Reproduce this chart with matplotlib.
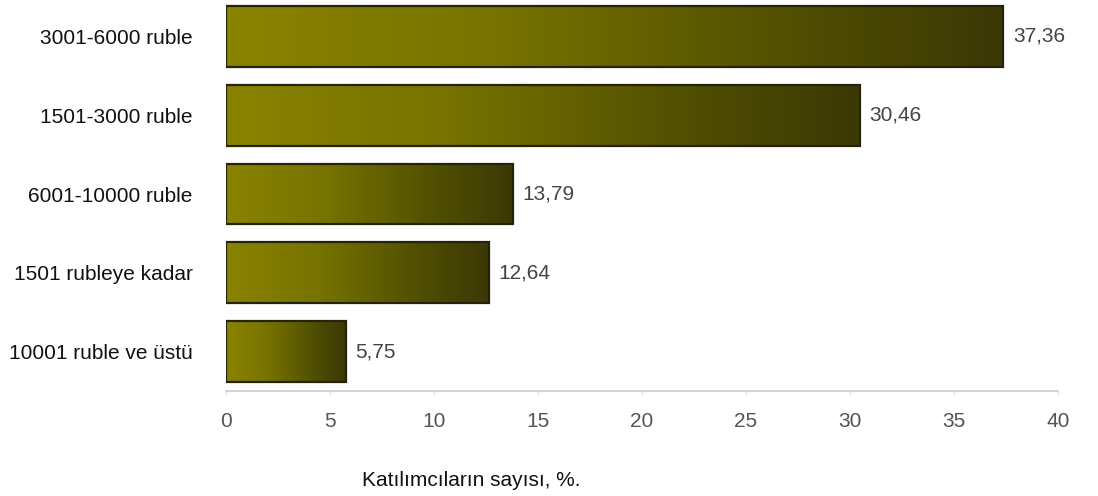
import numpy as np
import matplotlib
matplotlib.use("Agg")
import matplotlib.pyplot as plt
from matplotlib.colors import LinearSegmentedColormap
from matplotlib.patches import Rectangle

# Income groups and share of participants (%)
categories = ["3001-6000 ruble", "1501-3000 ruble", "6001-10000 ruble",
              "1501 rubleye kadar", "10001 ruble ve üstü"]
values = [37.36, 30.46, 13.79, 12.64, 5.75]
value_labels = ["37,36", "30,46", "13,79", "12,64", "5,75"]
xticks = [0, 5, 10, 15, 20, 25, 30, 35, 40]
xlabel = "Katılımcıların sayısı, %."

plt.rcParams["font.family"] = ["Liberation Sans", "DejaVu Sans"]

W, H = 1098, 496
fig = plt.figure(figsize=(W / 100, H / 100), dpi=100)
ax = fig.add_axes([226 / W, (H - 391) / H, (1058 - 226) / W, 394 / H])

cmap = LinearSegmentedColormap.from_list(
    "olive", [(0.0, "#8a8300"), (0.35, "#767300"), (0.74, "#504e02"), (1.0, "#3c3806")])
grad = np.linspace(0, 1, 256).reshape(1, -1)

bar_h = 0.77
for i, (v, lab) in enumerate(zip(values, value_labels)):
    y0, y1 = i - bar_h / 2, i + bar_h / 2
    ax.imshow(grad, cmap=cmap, aspect="auto", extent=(0, v, y1, y0),
              interpolation="bilinear", zorder=2)
    ax.add_patch(Rectangle((0, y0), v, bar_h, fill=False,
                           edgecolor="#26230c", linewidth=1.6, zorder=3))
    ax.annotate(lab, xy=(v, i), xytext=(7, 0), textcoords="offset points",
                va="center", ha="left", fontsize=15, color="#444444")

ax.set_xlim(0, 40)
ax.set_ylim(4.5, -0.5)
ax.set_yticks(range(len(categories)))
ax.set_yticklabels(categories, fontsize=15, color="#111111")
ax.set_xticks(xticks)
ax.set_xticklabels([str(t) for t in xticks], fontsize=15, color="#555555")
ax.tick_params(axis="y", length=0, pad=24)
ax.tick_params(axis="x", length=3, color="#dddddd", pad=12)

for s in ["top", "right", "left"]:
    ax.spines[s].set_visible(False)
ax.spines["bottom"].set_color("#cccccc")
ax.spines["bottom"].set_linewidth(1.2)

fig.text(471 / W, (H - 480) / H, xlabel, ha="center", va="center",
         fontsize=15, color="#111111")

fig.savefig("out.png", dpi=100, facecolor="white")
